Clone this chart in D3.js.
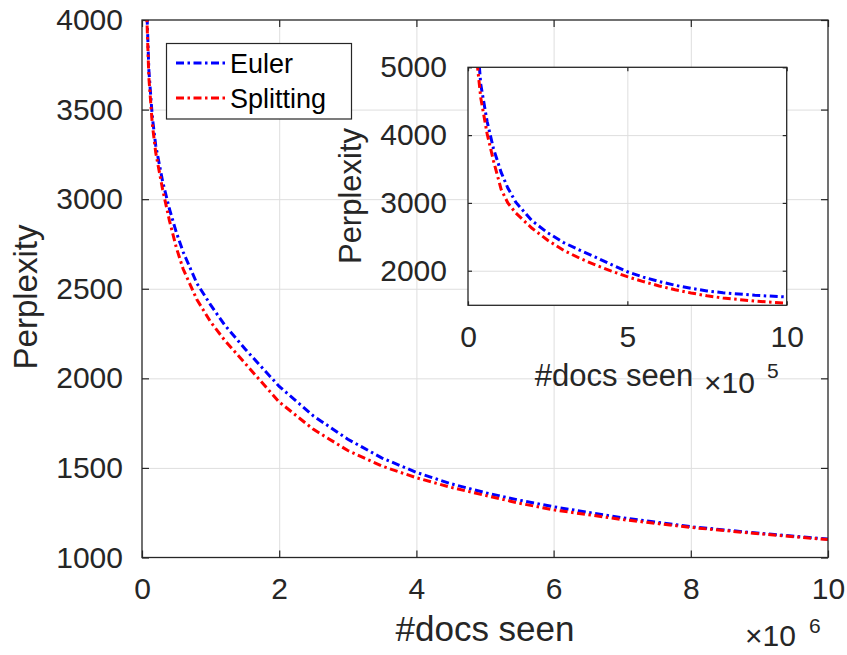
<!DOCTYPE html>
<html>
<head>
<meta charset="utf-8">
<script src="https://cdn.jsdelivr.net/npm/d3@7"></script>
<style>
  body { margin: 0; background: #fff; }
  svg { display: block; font-family: "Liberation Sans", Arial, Helvetica, sans-serif; }
  .tick text { fill: #262626; }
</style>
</head>
<body>
<script>
// main plot: #docs seen (x 10^6) vs perplexity
let mainX = [0.02, 0.05, 0.1, 0.15, 0.2, 0.3, 0.4, 0.5, 0.6, 0.8, 1.0, 1.2, 1.5, 2.0, 2.5, 3.0, 3.5, 4.0, 4.5, 5.0, 5.5, 6.0, 7.0, 8.0, 9.0, 10.0];
let mainEuler = [4800, 4300, 3720, 3460, 3300, 3100, 2945, 2815, 2705, 2530, 2410, 2300, 2165, 1955, 1790, 1660, 1555, 1475, 1412, 1362, 1320, 1283, 1222, 1172, 1135, 1103];
let mainSplit = [4750, 4250, 3680, 3420, 3260, 3055, 2880, 2730, 2610, 2440, 2315, 2215, 2085, 1868, 1715, 1597, 1510, 1445, 1392, 1347, 1303, 1266, 1212, 1168, 1132, 1100];

// inset: first 10^6 docs (x 10^5)
let insetX = [0.15, 0.3, 0.4, 0.6, 0.8, 1.04, 1.25, 1.5, 2.0, 2.5, 3.0, 3.5, 4.0, 4.5, 5.0, 5.5, 6.0, 6.5, 7.0, 7.5, 8.0, 9.0, 10.0];
let insetEuler = [6300, 5350, 4750, 4200, 3800, 3450, 3220, 3010, 2740, 2560, 2415, 2305, 2200, 2090, 1985, 1905, 1840, 1785, 1740, 1702, 1675, 1638, 1612];
let insetSplit = [6100, 5000, 4550, 4020, 3620, 3200, 3000, 2850, 2630, 2450, 2300, 2185, 2085, 1995, 1912, 1840, 1775, 1720, 1672, 1630, 1598, 1552, 1520];

let mainXTicks = [0, 2, 4, 6, 8, 10];
let mainYTicks = [1000, 1500, 2000, 2500, 3000, 3500, 4000];
let insetXTicks = [0, 5, 10];
let insetYTicks = [2000, 3000, 4000, 5000];

let seriesNames = ["Euler", "Splitting"];
let seriesColors = ["#0000ff", "#ff0000"];

let W = 847, H = 655;
let svg = d3.select("body").append("svg").attr("width", W).attr("height", H);

let axisColor = "#262626";
let gridColor = "#dedede";
let dash = "8,3.5,2.5,3.5";

function drawAxes(g, x, y, xTicks, yTicks, gridX, gridY, tickLen, opts) {
    let [x0, x1] = x.range();
    let [y0, y1] = y.range(); // y0 bottom, y1 top
    // grid
    g.append("g")
        .attr("transform", `translate(0,${y0})`)
        .call(d3.axisBottom(x).tickValues(gridX).tickSize(-(y0 - y1)).tickFormat(""))
        .call(g => g.select(".domain").remove())
        .call(g => g.selectAll("line").attr("stroke", gridColor).attr("stroke-width", 1));
    g.append("g")
        .attr("transform", `translate(${x0},0)`)
        .call(d3.axisLeft(y).tickValues(gridY).tickSize(-(x1 - x0)).tickFormat(""))
        .call(g => g.select(".domain").remove())
        .call(g => g.selectAll("line").attr("stroke", gridColor).attr("stroke-width", 1));

    let styleAx = sel => {
        sel.select(".domain").remove();
        sel.selectAll("line").attr("stroke", axisColor).attr("stroke-width", 1.2);
        sel.selectAll("text").style("font-size", opts.font + "px");
    };
    g.append("g").attr("transform", `translate(0,${y0})`)
        .call(d3.axisBottom(x).tickValues(xTicks).tickSize(-tickLen).tickPadding(opts.xPad).tickFormat(d3.format("d")))
        .call(styleAx);
    g.append("g").attr("transform", `translate(0,${y1})`)
        .call(d3.axisTop(x).tickValues(xTicks).tickSize(-tickLen).tickFormat(""))
        .call(styleAx);
    g.append("g").attr("transform", `translate(${x0},0)`)
        .call(d3.axisLeft(y).tickValues(yTicks).tickSize(-tickLen).tickPadding(opts.yPad).tickFormat(d3.format("d")))
        .call(styleAx);
    g.append("g").attr("transform", `translate(${x1},0)`)
        .call(d3.axisRight(y).tickValues(yTicks).tickSize(-tickLen).tickFormat(""))
        .call(styleAx);
}

function drawLines(g, x, y, xs, series, clipId) {
    let [x0, x1] = x.range();
    let [y0, y1] = y.range();
    svg.append("clipPath").attr("id", clipId)
        .append("rect").attr("x", x0).attr("y", y1).attr("width", x1 - x0).attr("height", y0 - y1);
    let line = d3.line().x(d => x(d[0])).y(d => y(d[1]));
    series.forEach((vals, i) => {
        g.append("path")
            .datum(d3.zip(xs, vals))
            .attr("clip-path", `url(#${clipId})`)
            .attr("fill", "none")
            .attr("stroke", seriesColors[i])
            .attr("stroke-width", 3)
            .attr("stroke-dasharray", dash)
            .attr("d", line);
    });
}

function box(g, x, y) {
    let [x0, x1] = x.range();
    let [y0, y1] = y.range();
    g.append("rect").attr("x", x0).attr("y", y1).attr("width", x1 - x0).attr("height", y0 - y1)
        .attr("fill", "none").attr("stroke", axisColor).attr("stroke-width", 1.3);
}

// ---- main axes
let mx = d3.scaleLinear([0, 10], [142, 828]);
let my = d3.scaleLinear([1000, 4000], [557.5, 20]);
let gMain = svg.append("g");
drawAxes(gMain, mx, my, mainXTicks, mainYTicks, [2, 4, 6, 8], [1500, 2000, 2500, 3000, 3500], 7,
    {font: 30, xPad: 20, yPad: 19});
drawLines(gMain, mx, my, mainX, [mainEuler, mainSplit], "clipMain");
box(gMain, mx, my);

gMain.append("text").attr("x", 485).attr("y", 641).attr("text-anchor", "middle")
    .style("font-size", "35px").attr("fill", axisColor).text("#docs seen");
gMain.append("text").attr("transform", "translate(37,297) rotate(-90)").attr("text-anchor", "middle")
    .style("font-size", "33px").attr("fill", axisColor).text("Perplexity");
gMain.append("text").attr("x", 745).attr("y", 646).style("font-size", "30px").attr("fill", axisColor).text("\u00d710");
gMain.append("text").attr("x", 809).attr("y", 633).style("font-size", "21px").attr("fill", axisColor).text("6");

// legend
let leg = svg.append("g");
leg.append("rect").attr("x", 166.5).attr("y", 43.5).attr("width", 185).attr("height", 75.5)
    .attr("fill", "#fff").attr("stroke", axisColor).attr("stroke-width", 1.2);
let legY = d3.scalePoint(seriesNames, [63, 98]);
seriesNames.forEach((name, i) => {
    leg.append("line").attr("x1", 176).attr("x2", 225).attr("y1", legY(name)).attr("y2", legY(name))
        .attr("stroke", seriesColors[i]).attr("stroke-width", 3).attr("stroke-dasharray", dash);
    leg.append("text").attr("x", 230).attr("y", legY(name) + 10)
        .style("font-size", "27px").attr("fill", "#000").text(name);
});

// ---- inset axes
let ix = d3.scaleLinear([0, 10], [468, 786.7]);
let iy = d3.scaleLinear([1490, 5000], [305.3, 67.3]);
let gIn = svg.append("g");
gIn.append("rect").attr("x", 468).attr("y", 67.3).attr("width", 318.7).attr("height", 238).attr("fill", "#fff");
drawAxes(gIn, ix, iy, insetXTicks, insetYTicks, [5], [2000, 3000, 4000], 4,
    {font: 30, xPad: 20.5, yPad: 21});
drawLines(gIn, ix, iy, insetX, [insetEuler, insetSplit], "clipInset");
box(gIn, ix, iy);

gIn.append("text").attr("x", 614).attr("y", 386).attr("text-anchor", "middle")
    .style("font-size", "31px").attr("fill", axisColor).text("#docs seen");
gIn.append("text").attr("transform", "translate(361,196) rotate(-90)").attr("text-anchor", "middle")
    .style("font-size", "31px").attr("fill", axisColor).text("Perplexity");
gIn.append("text").attr("x", 704).attr("y", 393).style("font-size", "30px").attr("fill", axisColor).text("\u00d710");
gIn.append("text").attr("x", 767).attr("y", 378).style("font-size", "21px").attr("fill", axisColor).text("5");
</script>
</body>
</html>
